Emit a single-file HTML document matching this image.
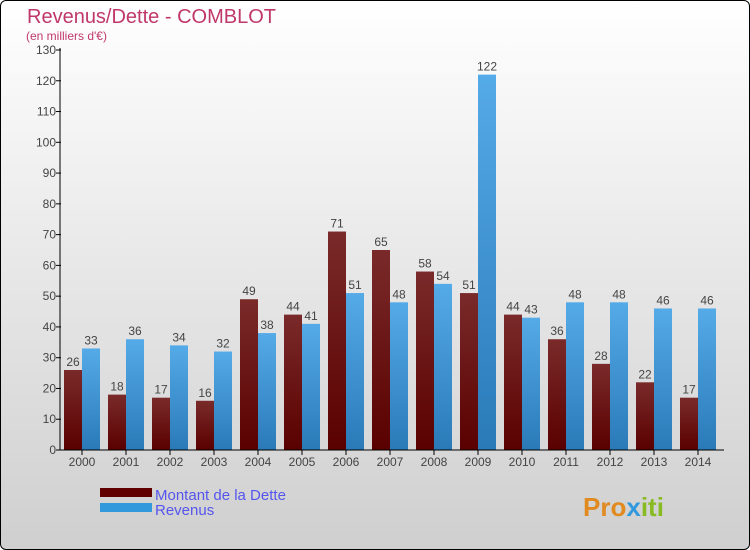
<!DOCTYPE html>
<html><head><meta charset="utf-8"><style>
html,body{margin:0;padding:0}
body{width:750px;height:550px;overflow:hidden;font-family:"Liberation Sans",sans-serif}
#c{position:absolute;left:0;top:0;width:748px;height:548px;border:1px solid #000;border-radius:6px;background:linear-gradient(#ffffff,#cfcfcf)}
</style></head><body>
<div id="c"></div>
<svg id="s" width="750" height="550" style="position:absolute;left:0;top:0">
<defs>
<linearGradient id="gd" x1="0" y1="0" x2="0" y2="1"><stop offset="0" stop-color="#7a2a2a"/><stop offset="1" stop-color="#5a0000"/></linearGradient>
<linearGradient id="gr" x1="0" y1="0" x2="0" y2="1"><stop offset="0" stop-color="#55aae8"/><stop offset="1" stop-color="#2a7ab8"/></linearGradient>
</defs>
<text x="27" y="23" font-size="20" fill="#c0386a">Revenus/Dette - COMBLOT</text>
<text x="26" y="40" font-size="12" fill="#c0386a">(en milliers d'€)</text>
<g id="g"></g>
<rect x="100" y="488" width="52" height="9" fill="#600000"/>
<rect x="100" y="503" width="52" height="9" fill="#3399dd"/>
<text x="155" y="500" font-size="15" fill="#5555ee">Montant de la Dette</text>
<text x="155" y="515" font-size="15" fill="#5555ee">Revenus</text>
<text x="583" y="516" font-size="26" font-weight="bold" fill="#e08a20">Pro<tspan fill="#3399dd">x</tspan><tspan fill="#88bb22">iti</tspan></text>
</svg>
<script>
const years=["2000","2001","2002","2003","2004","2005","2006","2007","2008","2009","2010","2011","2012","2013","2014"];
const dette=[26,18,17,16,49,44,71,65,58,51,44,36,28,22,17];
const revenus=[33,36,34,32,38,41,51,48,54,122,43,48,48,46,46];
const yTicks=[0,10,20,30,40,50,60,70,80,90,100,110,120,130];
const NS="http://www.w3.org/2000/svg";
const g=document.getElementById('g');
const y=v=>450-v*400/130;
const xc=i=>82+i*44;
function mk(t,a){const e=document.createElementNS(NS,t);for(const k in a)e.setAttribute(k,a[k]);g.appendChild(e);return e;}
yTicks.forEach(v=>{
  const l=mk('line',{x1:56,x2:61,y1:y(v),y2:y(v),stroke:'#000'});
  
  
  const t=mk('text',{x:56,y:y(v)+4,'font-size':12,'text-anchor':'end',fill:'#444'});t.textContent=v;
  
  
});
years.forEach((yr,i)=>{
  const b1=mk('rect',{x:xc(i)-18,y:y(dette[i]),width:18,height:450-y(dette[i]),fill:'url(#gd)'});
  
  
  const b2=mk('rect',{x:xc(i),y:y(revenus[i]),width:18,height:450-y(revenus[i]),fill:'url(#gr)'});
  
  
  const t1=mk('text',{x:xc(i)-9,y:y(dette[i])-4,'font-size':12,'text-anchor':'middle',fill:'#444'});t1.textContent=dette[i];
  
  
  const t2=mk('text',{x:xc(i)+9,y:y(revenus[i])-4,'font-size':12,'text-anchor':'middle',fill:'#444'});t2.textContent=revenus[i];
  
  
  const tk=mk('line',{x1:xc(i),x2:xc(i),y1:450,y2:455,stroke:'#000'});
  
  
  const xl=mk('text',{x:xc(i),y:466,'font-size':12,'text-anchor':'middle',fill:'#444'});xl.textContent=yr;
  
  
});
const ax=mk('line',{x1:60,x2:60,y1:48,y2:450,stroke:'#000'});


const bx=mk('line',{x1:60,x2:724,y1:450,y2:450,stroke:'#000'});


</script>
</body></html>
